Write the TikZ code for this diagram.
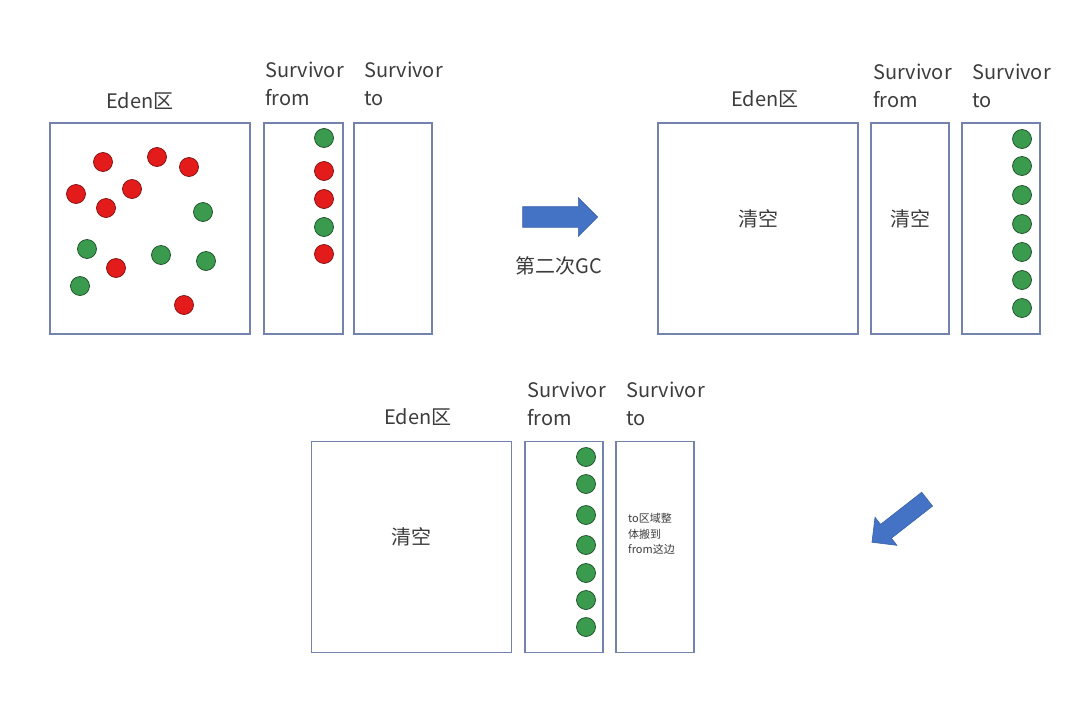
\documentclass[tikz,border=0pt]{standalone}
\usepackage{fontspec}
\setmainfont{Noto Sans CJK SC}
\usepackage{xcolor}
\usetikzlibrary{positioning, shapes.arrows}
\definecolor{framegray}{HTML}{7383AE}
\definecolor{dotred}{HTML}{E31B1B}
\definecolor{dotgreen}{HTML}{3A9A4E}
\definecolor{arrowblue}{HTML}{4472C4}
\definecolor{darkblue}{HTML}{3A62A8}
\definecolor{inkgray}{HTML}{3C3C3C}

\begin{document}
\begin{tikzpicture}[x=1pt, y=-1pt,
    zone/.style={draw=framegray, line width=1.3pt, inner sep=0pt, minimum height=211pt},
    edenbox/.style={zone, minimum width=200pt},
    survbox/.style={zone, minimum width=78pt},
    lbl/.style={font=\fontsize{20}{28}\selectfont, text=inkgray, inner sep=0pt},
    note/.style={font=\fontsize{11}{15.5}\selectfont, text=inkgray, inner sep=0pt, align=left},
    reddot/.style={circle, draw=dotred!55!black, line width=0.7pt, fill=dotred, minimum size=19pt, inner sep=0pt},
    greendot/.style={circle, draw=dotgreen!50!black, line width=0.7pt, fill=dotgreen, minimum size=19pt, inner sep=0pt},
    bigarrow/.style={single arrow, draw=darkblue, line width=0.6pt, fill=arrowblue, inner sep=10pt,
      single arrow head extend=9pt, single arrow head indent=0pt, single arrow tip angle=90}]
  \useasboundingbox (0,0) rectangle (1080,718);

  % Before the second GC (top left)
  \node[edenbox] (edenA) at (150,228.5) {};
  \node[survbox, minimum width=79pt, right=12.7pt of edenA] (fromA) {};
  \node[survbox, right=9.7pt of fromA] (toA) {};
  \node[lbl] (edenAlbl) at (140,101) {Eden区};
  \node[lbl, align=left, anchor=west] (fromAlbl) at (265,84) {Survivor\\from};
  \node[lbl, align=left, anchor=west] (toAlbl) at (364,84) {Survivor\\to};
  \foreach[count=\i] \x/\y in {103/162, 157/157, 189/167, 76/194, 132/189, 106/208, 116/268, 184/305}
    \node[reddot] (redA\i) at (\x,\y) {};
  \foreach[count=\i] \x/\y in {203/212, 87/249, 161/255, 206/261, 80/286}
    \node[greendot] (greenA\i) at (\x,\y) {};
  \foreach[count=\i] \y/\c in {138/greendot, 171/reddot, 199/reddot, 227/greendot, 254/reddot}
    \node[\c] (dotF\i) at (324,\y) {};

  % Arrow to the right
  \node[bigarrow, minimum height=75pt] (gcarrow) at (555,217) {};
  \node[lbl] (gclbl) at (559,266) {第二次GC};

  % After the second GC (top right)
  \node[edenbox] (edenB) at (758,228.5) {};
  \node[survbox, right=11.7pt of edenB] (fromB) {};
  \node[survbox, right=11.7pt of fromB] (toB) {};
  \node[lbl] (edenBlbl) at (765,99) {Eden区};
  \node[lbl, align=left, anchor=west] (fromBlbl) at (873,86) {Survivor\\from};
  \node[lbl, align=left, anchor=west] (toBlbl) at (972,86) {Survivor\\to};
  \node[lbl] (clearB1) at ([yshift=10pt]edenB.center) {清空};
  \node[lbl] (clearB2) at ([yshift=10pt]fromB.center) {清空};
  \foreach[count=\i] \y in {139, 166, 195, 224, 252, 280, 308}
    \node[greendot] (dotT\i) at (1022,\y) {};

  % Arrow down to the left
  \node[bigarrow, minimum height=70pt, inner sep=8.5pt, rotate=218] (swaparrow) at (903,518) {};

  % from and to swapped (bottom)
  \node[edenbox] (edenC) at (411.5,547) {};
  \node[survbox, right=12.2pt of edenC] (fromC) {};
  \node[survbox, right=11.7pt of fromC] (toC) {};
  \node[lbl] (edenClbl) at (418,417) {Eden区};
  \node[lbl, align=left, anchor=west] (fromClbl) at (527,404) {Survivor\\from};
  \node[lbl, align=left, anchor=west] (toClbl) at (626,404) {Survivor\\to};
  \node[lbl] (clearC) at ([yshift=10pt]edenC.center) {清空};
  \foreach[count=\i] \y in {457, 484, 515, 545, 573, 600, 627}
    \node[greendot] (dotC\i) at (586,\y) {};
  \node[note, anchor=west] (movenote) at (628,534) {to区域整\\体搬到\\from这边};
\end{tikzpicture}
\end{document}
